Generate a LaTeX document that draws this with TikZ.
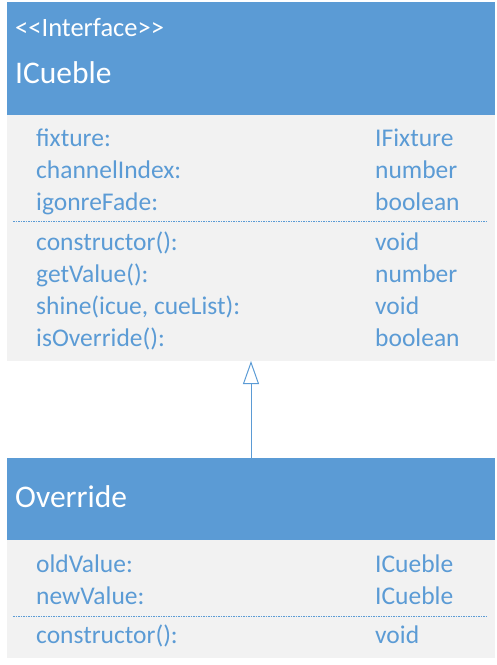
\documentclass[tikz,border=0pt]{standalone}
\usepackage{fontspec}
\setmainfont{Carlito}
\usetikzlibrary{arrows.meta}
\definecolor{umlblue}{HTML}{5B9BD5}
\definecolor{umlgray}{HTML}{F2F2F2}

\begin{document}
\begin{tikzpicture}[x=1pt,y=-1pt,
  box/.style={anchor=north west,inner sep=0pt,outer sep=0pt},
  head/.style={box,fill=umlblue},
  body/.style={box,fill=umlgray},
  title/.style={anchor=base west,inner sep=0pt,text=white,font=\fontsize{31.5}{36}\selectfont},
  stereo/.style={anchor=base west,inner sep=0pt,text=white,font=\fontsize{26.5}{30}\selectfont},
  member/.style={anchor=base west,inner sep=0pt,text=umlblue,font=\fontsize{25.5}{30}\selectfont},
  sep/.style={umlblue,line width=1pt,dash pattern=on 1.5pt off 1pt}]
\useasboundingbox (0,0) rectangle (497,665);
% interface ICueble
\node[head,minimum width=488pt,minimum height=113pt] (ihead) at (7,2) {};
\node[body,minimum width=488pt,minimum height=246pt] (ibody) at (7,115) {};
\node[stereo] (istereo) at (15,36) {{<}{<}Interface{>}{>}};
\node[title] (ititle) at (15,83) {ICueble};
\node[member] (fixture) at (36,146) {fixture:};
\node[member] (fixturet) at (375,146) {IFixture};
\node[member] (channel) at (36,178) {channelIndex:};
\node[member] (channelt) at (375,178) {number};
\node[member] (fade) at (36,210) {igonreFade:};
\node[member] (fadet) at (375,210) {boolean};
\draw[sep] (13,221) -- (488,221);
\node[member] (ictor) at (36,250) {constructor():};
\node[member] (ictort) at (375,250) {void};
\node[member] (getval) at (36,282) {getValue():};
\node[member] (getvalt) at (375,282) {number};
\node[member] (shine) at (36,314) {shine(icue, cueList):};
\node[member] (shinet) at (375,314) {void};
\node[member] (isover) at (36,346) {isOverride():};
\node[member] (isovert) at (375,346) {boolean};
% class Override
\node[head,minimum width=488pt,minimum height=82pt] (ohead) at (7,458) {};
\node[body,minimum width=488pt,minimum height=118pt] (obody) at (7,540) {};
\node[title] (otitle) at (15,507) {Override};
\node[member] (oldval) at (36,572) {oldValue:};
\node[member] (oldvalt) at (375,572) {ICueble};
\node[member] (newval) at (36,604) {newValue:};
\node[member] (newvalt) at (375,604) {ICueble};
\draw[sep] (13,616) -- (488,616);
\node[member] (octor) at (36,643) {constructor():};
\node[member] (octort) at (375,643) {void};
% realization
\draw[umlblue,line width=1pt,-{Triangle[open,length=23pt,width=16pt]}] (ohead.north) -- (ibody.south);
\end{tikzpicture}
\end{document}
